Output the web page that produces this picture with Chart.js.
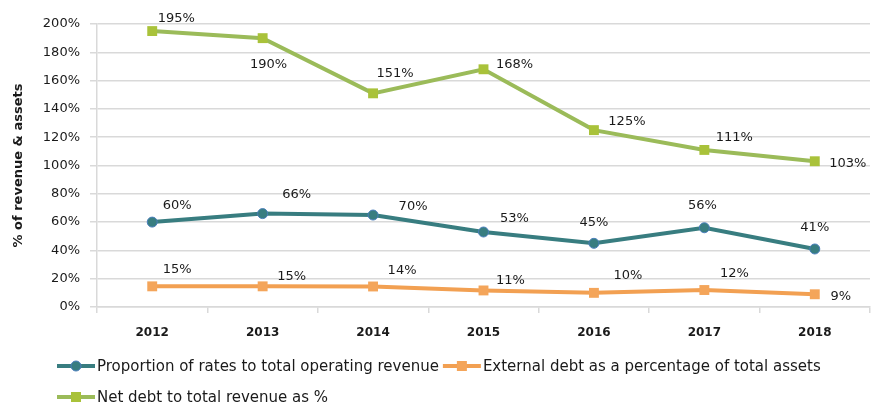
<!DOCTYPE html>
<html>
<head>
<meta charset="utf-8">
<script src="https://cdn.jsdelivr.net/npm/chart.js@4.4.1/dist/chart.umd.min.js"></script>
<style>
  html, body { margin: 0; padding: 0; background: #fff; overflow: hidden; }
  #wrap { width: 877px; height: 403px; }
</style>
</head>
<body>
<div id="wrap"><canvas id="chart"></canvas></div>
<script>
const years = ['2012', '2013', '2014', '2015', '2016', '2017', '2018'];
const yTicks = [0, 20, 40, 60, 80, 100, 120, 140, 160, 180, 200];

const ratesToRevenue = [60, 66, 65, 53, 45, 56, 41];
const ratesLabels = ['60%', '66%', '70%', '53%', '45%', '56%', '41%'];

const debtToAssets = [14.6, 14.6, 14.5, 11.7, 10, 12, 9];
const debtAssetsLabels = ['15%', '15%', '14%', '11%', '10%', '12%', '9%'];

const netDebtToRevenue = [195, 190, 151, 168, 125, 111, 103];
const netDebtLabels = ['195%', '190%', '151%', '168%', '125%', '111%', '103%'];

const seriesNames = [
    'Proportion of rates to total operating revenue',
    'External debt as a percentage of total assets',
    'Net debt to total revenue as %'
];

// label offsets from each point (px), as placed in the original
const labelOffsets = [
    [[25, -16], [34, -19], [40, -8], [31, -13], [0, -21], [-2, -22], [0, -21]],
    [[25, -17], [29, -10], [29, -16], [27, -10], [34, -17], [30, -16], [26, 2]],
    [[24, -12], [6, 26], [22, -20], [31, -5], [33, -9], [30, -12], [33, 2]]
];

const TICK_FONT = '"DejaVu Sans", sans-serif';

const dataLabels = {
    id: 'dataLabels',
    afterDatasetsDraw(chart) {
        const ctx = chart.ctx;
        ctx.save();
        ctx.font = '13px ' + TICK_FONT;
        ctx.fillStyle = '#1a1a1a';
        ctx.textAlign = 'center';
        ctx.textBaseline = 'middle';
        chart.data.datasets.forEach((ds, di) => {
            chart.getDatasetMeta(di).data.forEach((pt, i) => {
                const [dx, dy] = labelOffsets[di][i];
                ctx.fillText(ds.pointLabels[i], pt.x + dx, pt.y + dy);
            });
        });
        ctx.restore();
    }
};

const customLegend = {
    id: 'customLegend',
    afterDraw(chart) {
        const ctx = chart.ctx;
        ctx.save();
        ctx.font = '15px ' + TICK_FONT;
        ctx.textBaseline = 'middle';
        let x = 57, y = 366;
        chart.data.datasets.forEach((ds, di) => {
            const w = ctx.measureText(ds.label).width;
            if (x + 40 + w > 870) { x = 57; y += 31; }
            ctx.strokeStyle = ds.borderColor;
            ctx.lineWidth = 4;
            ctx.beginPath();
            ctx.moveTo(x, y);
            ctx.lineTo(x + 38, y);
            ctx.stroke();
            ctx.fillStyle = ds.pointBackgroundColor;
            if (ds.pointStyle === 'circle') {
                ctx.beginPath();
                ctx.arc(x + 19, y, 5, 0, Math.PI * 2);
                ctx.fill();
                ctx.strokeStyle = ds.pointBorderColor;
                ctx.lineWidth = 1;
                ctx.stroke();
            } else {
                ctx.fillRect(x + 14, y - 5, 10, 10);
            }
            ctx.fillStyle = '#1a1a1a';
            ctx.fillText(ds.label, x + 40, y + 1);
            x += 40 + w + 4;
        });
        ctx.restore();
    }
};

new Chart(document.getElementById('chart'), {
    type: 'line',
    data: {
        labels: years,
        datasets: [
            { label: seriesNames[0], data: ratesToRevenue, pointLabels: ratesLabels,
              borderColor: '#387d80', borderWidth: 4, pointStyle: 'circle', pointRadius: 5,
              pointBackgroundColor: '#387d80', pointBorderColor: '#4a7ebb', pointBorderWidth: 1 },
            { label: seriesNames[1], data: debtToAssets, pointLabels: debtAssetsLabels,
              borderColor: '#f2a052', borderWidth: 4, pointStyle: 'rect', pointRadius: 7,
              pointBackgroundColor: '#f4a55a', pointBorderColor: '#f4a55a', pointBorderWidth: 0 },
            { label: seriesNames[2], data: netDebtToRevenue, pointLabels: netDebtLabels,
              borderColor: '#9bbb59', borderWidth: 4, pointStyle: 'rect', pointRadius: 7,
              pointBackgroundColor: '#a9c23a', pointBorderColor: '#a9c23a', pointBorderWidth: 0 }
        ]
    },
    options: {
        responsive: true,
        maintainAspectRatio: false,
        animation: false,
        layout: { padding: { left: 11, top: 24, right: 0, bottom: 56 } },
        plugins: { legend: { display: false }, tooltip: { enabled: false } },
        scales: {
            x: {
                offset: true,
                grid: { offset: true, drawOnChartArea: false, drawTicks: true, tickLength: 6, color: '#d9d9d9', lineWidth: 1.5 },
                border: { color: '#d9d9d9', width: 1.5 },
                ticks: { color: '#1a1a1a', font: { family: TICK_FONT, size: 12, weight: 'bold' }, padding: 13 },
                afterFit(scale) { scale.height = 40; }
            },
            y: {
                min: 0, max: 200,
                afterBuildTicks(scale) { scale.ticks = yTicks.map(v => ({ value: v })); },
                grid: { color: '#d9d9d9', lineWidth: 1.5, drawTicks: true, tickLength: 7 },
                border: { color: '#d9d9d9', width: 1.5 },
                ticks: { color: '#1a1a1a', font: { family: TICK_FONT, size: 13 }, padding: 10, callback: v => v + '%' },
                title: { display: true, text: '% of revenue & assets', color: '#1a1a1a', font: { family: TICK_FONT, size: 13, weight: 'bold' }, padding: 0 },
                afterFit(scale) { scale.width = 86; }
            }
        }
    },
    plugins: [dataLabels, customLegend]
});
</script>
</body>
</html>
